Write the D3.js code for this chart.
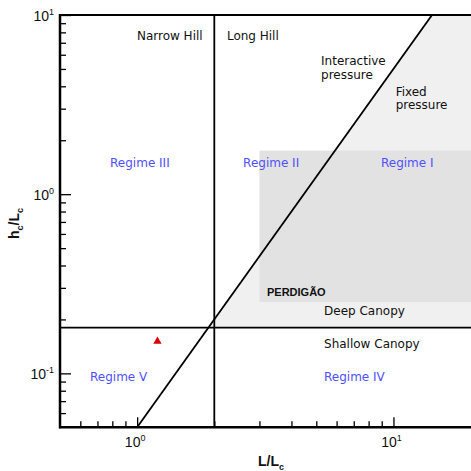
<!DOCTYPE html>
<html>
<head>
<meta charset="utf-8">
<script src="https://cdn.jsdelivr.net/npm/d3@7"></script>
<style>
  html, body { margin: 0; padding: 0; background: #fff; }
  svg { display: block; }
</style>
</head>
<body>
<svg id="chart" width="471" height="471"></svg>
<script>
// Axis extents (L/Lc horizontally, hc/Lc vertically, both logarithmic)
const xDomain = [0.5, 20];
const yDomain = [0.05, 10];

// Regime boundaries
const hillLimit = [2];            // narrow / long hill divide on L/Lc
const canopyLimit = [0.18];       // deep / shallow canopy divide on hc/Lc
const pressureCoef = [0.05];      // hc/Lc = coef * (L/Lc)^2 separates interactive / fixed pressure
const pressureLine = [[1.0, 0.05], [14.14, 10]];

// Field campaign extent (L/Lc range, hc/Lc range)
const perdigaoL = [3, 20];
const perdigaoH = [0.25, 1.75];

// Measured site location
const sitePoint = [{ L: 1.2, h: 0.151 }];

// Text annotations: [text, L/Lc, hc/Lc, style]
const notes = [
  ["Narrow Hill", 0.998, 7.21, "dark"],
  ["Long Hill", 2.24, 7.21, "dark"],
  ["Interactive", 5.22, 5.23, "dark"],
  ["pressure", 5.22, 4.42, "dark"],
  ["Fixed", 10.2, 3.53, "dark"],
  ["pressure", 10.2, 2.99, "dark"],
  ["Regime III", 0.784, 1.418, "blue"],
  ["Regime II", 2.59, 1.418, "blue"],
  ["Regime I", 8.94, 1.418, "blue"],
  ["PERDIGÃO", 3.21, 0.2704, "bold"],
  ["Deep Canopy", 5.36, 0.2118, "dark"],
  ["Shallow Canopy", 5.36, 0.1386, "dark"],
  ["Regime V", 0.655, 0.0907, "blue"],
  ["Regime IV", 5.36, 0.0907, "blue"]
];

const xTicksMajor = [1, 10];
const yTicksMajor = [0.1, 1, 10];
const tickExp = { 1: "0", 10: "1", 0.1: "-1" };

const svg = d3.select("#chart");
const x = d3.scaleLog().domain(xDomain).range([60, 470.6]);
const y = d3.scaleLog().domain(yDomain).range([427.3, 15]);

svg.append("clipPath").attr("id", "plotclip")
  .append("rect").attr("x", x(xDomain[0])).attr("y", y(yDomain[1]))
  .attr("width", x(xDomain[1]) - x(xDomain[0]) + 2)
  .attr("height", y(yDomain[0]) - y(yDomain[1]));

const plot = svg.append("g").attr("clip-path", "url(#plotclip)");

// Fixed-pressure zone: right of the pressure line, above the canopy divide
const lStart = Math.sqrt(canopyLimit[0] / pressureCoef[0]);
const lTop = Math.sqrt(yDomain[1] / pressureCoef[0]);
const fixedZone = [
  [lStart, canopyLimit[0]],
  [lTop, yDomain[1]],
  [xDomain[1] * 1.1, yDomain[1]],
  [xDomain[1] * 1.1, canopyLimit[0]]
];
plot.append("path")
  .attr("d", d3.line().x(d => x(d[0])).y(d => y(d[1]))(fixedZone) + "Z")
  .attr("fill", "#f0f0f0");

// PERDIGÃO box
plot.append("rect")
  .attr("x", x(perdigaoL[0]))
  .attr("y", y(perdigaoH[1]))
  .attr("width", x(perdigaoL[1]) - x(perdigaoL[0]) + 2)
  .attr("height", y(perdigaoH[0]) - y(perdigaoH[1]))
  .attr("fill", "#e2e2e2");

// Boundary lines
plot.append("line")
  .attr("x1", x(hillLimit[0])).attr("x2", x(hillLimit[0]))
  .attr("y1", y(yDomain[0])).attr("y2", y(yDomain[1]))
  .attr("stroke", "#000").attr("stroke-width", 1.8);
plot.append("line")
  .attr("x1", x(xDomain[0])).attr("x2", x(xDomain[1]) + 2)
  .attr("y1", y(canopyLimit[0])).attr("y2", y(canopyLimit[0]))
  .attr("stroke", "#000").attr("stroke-width", 1.8);
plot.append("path")
  .attr("d", d3.line().x(d => x(d[0])).y(d => y(d[1]))(pressureLine))
  .attr("stroke", "#000").attr("stroke-width", 1.8).attr("fill", "none");

// Site marker
plot.selectAll("path.site").data(sitePoint).join("path")
  .attr("class", "site")
  .attr("d", d3.symbol().type(d3.symbolTriangle).size(30))
  .attr("transform", d => `translate(${x(d.L)},${y(d.h)})`)
  .attr("fill", "#dd0000");

// Annotations
const styles = {
  dark: { fill: "#111", weight: "normal", family: "DejaVu Sans, sans-serif", size: 12 },
  blue: { fill: "#5050ff", weight: "normal", family: "DejaVu Sans, sans-serif", size: 12 },
  bold: { fill: "#111", weight: "bold", family: "Liberation Sans, Arial, sans-serif", size: 11 }
};
svg.selectAll("text.note").data(notes).join("text")
  .attr("class", "note")
  .attr("x", d => x(d[1]))
  .attr("y", d => y(d[2]))
  .attr("fill", d => styles[d[3]].fill)
  .attr("font-weight", d => styles[d[3]].weight)
  .attr("font-family", d => styles[d[3]].family)
  .attr("font-size", d => styles[d[3]].size)
  .text(d => d[0]);

// Axes
const tickFont = "Liberation Sans, Arial, sans-serif";
const xMinor = [];
const yMinor = [];
for (let d = -1; d <= 1; d++) for (let m = 2; m <= 9; m++) {
  const v = m * Math.pow(10, d);
  if (v > xDomain[0] && v < xDomain[1]) xMinor.push(v);
}
for (let d = -2; d <= 0; d++) for (let m = 2; m <= 9; m++) {
  const v = m * Math.pow(10, d);
  if (v > yDomain[0] && v < yDomain[1]) yMinor.push(v);
}

const xAxisMinor = d3.axisBottom(x).tickValues(xMinor).tickSize(-6).tickFormat("");
const xAxisMajor = d3.axisBottom(x).tickValues(xTicksMajor).tickSize(-10).tickFormat("");
const yAxisMinor = d3.axisLeft(y).tickValues(yMinor).tickSize(-6).tickFormat("");
const yAxisMajor = d3.axisLeft(y).tickValues(yTicksMajor).tickSize(-11).tickFormat("");

[xAxisMinor, xAxisMajor].forEach(a => {
  const g = svg.append("g").attr("transform", `translate(0,${y(yDomain[0])})`).call(a);
  g.select(".domain").remove();
  g.selectAll("line").attr("stroke", "#000").attr("stroke-width", 1.3);
});
[yAxisMinor, yAxisMajor].forEach(a => {
  const g = svg.append("g").attr("transform", `translate(${x(xDomain[0])},0)`).call(a);
  g.select(".domain").remove();
  g.selectAll("line").attr("stroke", "#000").attr("stroke-width", 1.3);
});

// Frame lines: bottom, left, top
svg.append("line").attr("x1", x(xDomain[0]) - 1).attr("x2", 471)
  .attr("y1", y(yDomain[0])).attr("y2", y(yDomain[0]))
  .attr("stroke", "#000").attr("stroke-width", 2.5);
svg.append("line").attr("x1", x(xDomain[0])).attr("x2", x(xDomain[0]))
  .attr("y1", y(yDomain[1]) - 1).attr("y2", y(yDomain[0]) + 1)
  .attr("stroke", "#000").attr("stroke-width", 2.5);
svg.append("line").attr("x1", x(xDomain[0]) - 1).attr("x2", 471)
  .attr("y1", y(yDomain[1])).attr("y2", y(yDomain[1]))
  .attr("stroke", "#000").attr("stroke-width", 1.8);

// Tick labels: 10^n
const xl = svg.selectAll("text.xt").data(xTicksMajor).join("text")
  .attr("class", "xt")
  .attr("x", d => x(d) - 2)
  .attr("y", 447)
  .attr("text-anchor", "middle")
  .attr("font-family", tickFont).attr("font-size", 14).attr("fill", "#111");
xl.append("tspan").text("10");
xl.append("tspan").attr("dy", -6).attr("font-size", 9).text(d => tickExp[d]);

const yl = svg.selectAll("text.yt").data(yTicksMajor).join("text")
  .attr("class", "yt")
  .attr("x", 54)
  .attr("y", d => y(d) + 6)
  .attr("text-anchor", "end")
  .attr("font-family", tickFont).attr("font-size", 14).attr("fill", "#111");
yl.append("tspan").text("10");
yl.append("tspan").attr("dy", -6).attr("font-size", 9).text(d => tickExp[d]);

// Axis titles
const xt = svg.append("text")
  .attr("x", 258).attr("y", 466)
  .attr("font-family", tickFont).attr("font-weight", "bold").attr("font-size", 14).attr("fill", "#111");
xt.append("tspan").text("L/L");
xt.append("tspan").attr("dy", 4).attr("font-size", 9).text("c");

const yt = svg.append("text")
  .attr("transform", "translate(19,239) rotate(-90)")
  .attr("font-family", tickFont).attr("font-weight", "bold").attr("font-size", 14).attr("fill", "#111");
yt.append("tspan").text("h");
yt.append("tspan").attr("dy", 4).attr("font-size", 9).text("c");
yt.append("tspan").attr("dy", -4).text("/L");
yt.append("tspan").attr("dy", 4).attr("font-size", 9).text("c");
</script>
</body>
</html>
